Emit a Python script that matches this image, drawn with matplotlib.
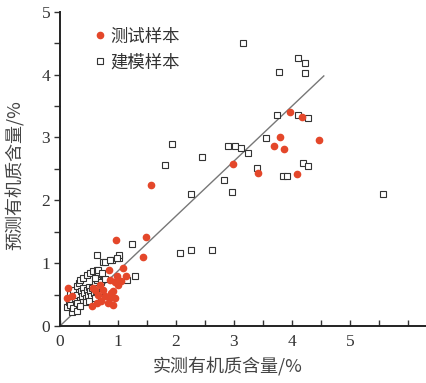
import matplotlib.pyplot as plt
from matplotlib.ticker import MultipleLocator

plt.rcParams['font.family'] = ['Liberation Serif', 'Noto Sans CJK SC']

# 建模样本 (open squares): measured vs predicted
model_x = [3.15, 4.11, 4.22, 4.22, 3.78, 3.74, 4.11, 4.28, 3.56, 2.90, 3.02, 3.13,
           3.25, 1.93, 2.45, 1.81, 4.19, 4.28, 3.39, 3.85, 3.91, 2.26, 2.96, 2.83,
           5.57, 1.25, 2.07, 2.26, 2.63, 0.63, 0.89, 1.01, 1.02, 0.75, 1.29, 1.15,
           0.12, 0.15, 0.17, 0.20, 0.23, 0.29, 0.17, 0.23, 0.29, 0.32, 0.34, 0.40,
           0.46, 0.52, 0.57, 0.63, 0.26, 0.30, 0.34, 0.36, 0.38, 0.40, 0.42, 0.44,
           0.46, 0.48, 0.50, 0.52, 0.54, 0.56, 0.58, 0.60, 0.62, 0.66, 0.72, 0.66,
           0.63, 0.30, 0.35, 0.44, 0.50, 0.60, 0.70, 0.78, 0.78, 0.86, 0.98, 0.66,
           0.72, 0.60]
model_y = [4.50, 4.26, 4.18, 4.02, 4.05, 3.36, 3.36, 3.31, 2.99, 2.86, 2.86, 2.83,
           2.75, 2.90, 2.69, 2.56, 2.59, 2.55, 2.51, 2.38, 2.39, 2.10, 2.14, 2.32,
           2.10, 1.30, 1.16, 1.21, 1.21, 1.13, 1.05, 1.08, 1.13, 1.01, 0.79, 0.73,
           0.30, 0.38, 0.33, 0.22, 0.28, 0.23, 0.52, 0.57, 0.63, 0.68, 0.73, 0.76,
           0.81, 0.84, 0.87, 0.89, 0.45, 0.50, 0.42, 0.55, 0.47, 0.60, 0.52, 0.45,
           0.58, 0.50, 0.62, 0.55, 0.47, 0.60, 0.52, 0.66, 0.56, 0.60, 0.55, 0.81,
           0.73, 0.36, 0.32, 0.38, 0.40, 0.45, 0.70, 0.75, 1.02, 1.05, 1.08, 0.89,
           0.84, 0.76]

# 测试样本 (red dots)
test_x = [3.97, 4.18, 3.79, 3.69, 3.87, 4.47, 2.99, 3.41, 4.08, 1.57, 0.96, 1.48,
          1.43, 0.85, 1.08, 1.14, 0.14, 0.12, 0.20, 0.55, 0.63, 0.57, 0.60, 0.69,
          0.75, 0.78, 0.86, 0.95, 0.92, 0.92, 1.00, 0.98, 0.86, 0.70, 0.66, 0.82,
          0.88, 0.95, 1.05]
test_y = [3.41, 3.32, 3.00, 2.86, 2.82, 2.96, 2.58, 2.43, 2.42, 2.25, 1.37, 1.41,
          1.09, 0.89, 0.92, 0.79, 0.60, 0.44, 0.48, 0.31, 0.36, 0.60, 0.58, 0.65,
          0.57, 0.47, 0.44, 0.44, 0.33, 0.55, 0.65, 0.79, 0.73, 0.40, 0.50, 0.36,
          0.52, 0.70, 0.72]

# fitted line end points
fit_x = [0, 4.55]
fit_y = [0, 3.98]

fig = plt.figure(figsize=(4.27, 3.83), dpi=100)
ax = fig.add_axes([0.1405, 0.149, 0.8595, 0.82])

ax.plot(fit_x, fit_y, color='#777777', lw=1.0, zorder=1)
ax.plot(model_x, model_y, 's', ms=4.0, mfc='white', mec='#333333', mew=0.8,
        label='建模样本', zorder=2)
ax.plot(test_x, test_y, 'o', ms=4.5, color='#e4472a', mec='#e4472a',
        label='测试样本', zorder=3)

ax.set_xlim(0, 6.33)
ax.set_ylim(0, 5)
ax.xaxis.set_major_locator(MultipleLocator(1))
ax.xaxis.set_minor_locator(MultipleLocator(0.5))
ax.yaxis.set_major_locator(MultipleLocator(1))
ax.yaxis.set_minor_locator(MultipleLocator(0.5))
ax.set_xticks([0, 1, 2, 3, 4, 5])
ax.set_yticks([0, 1, 2, 3, 4, 5])

for s in ['top', 'right']:
    ax.spines[s].set_visible(False)
for s in ['left', 'bottom']:
    ax.spines[s].set_linewidth(1.4)
    ax.spines[s].set_color('#222222')

ax.tick_params(axis='x', which='both', direction='in', length=4, width=1,
               labelsize=12.5, colors='#333333', pad=6)
ax.tick_params(axis='y', which='both', direction='out', length=4, width=1,
               labelsize=12.5, colors='#333333', pad=3)

ax.set_xlabel('实测有机质含量/%', fontsize=13, color='#444444',
              family=['Noto Sans CJK SC'])
ax.set_ylabel('预测有机质含量/%', fontsize=13, color='#444444',
              family=['Noto Sans CJK SC'])
ax.xaxis.set_label_coords(0.458, -0.1)
ax.yaxis.set_label_coords(-0.095, 0.48)

handles, labels = ax.get_legend_handles_labels()
leg = ax.legend(handles[::-1], labels[::-1], loc='upper left',
                bbox_to_anchor=(0.055, 1.0), frameon=False,
                handlelength=0.5, handletextpad=0.35, labelspacing=0.45,
                prop={'family': 'Noto Sans CJK SC', 'size': 12.5})
for t in leg.get_texts():
    t.set_color('#333333')

fig.savefig('out.png', dpi=100)
